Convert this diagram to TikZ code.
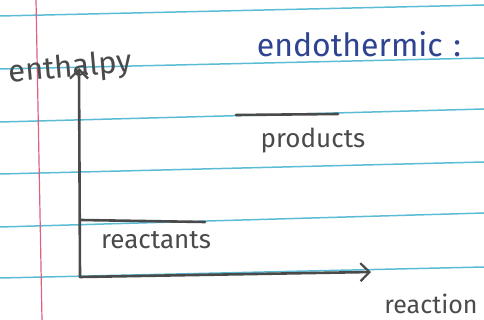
\documentclass[tikz,border=0pt]{standalone}
\usepackage{fontspec}
\setmainfont{Fira Sans}
\usetikzlibrary{arrows.meta}
\definecolor{rule}{HTML}{5BBCD6}
\definecolor{margin}{HTML}{E0607E}
\definecolor{pencil}{HTML}{4A4A4A}
\definecolor{ink}{HTML}{2E4490}
\tikzset{
  paperline/.style={rule, line width=1.5pt},
  pencilline/.style={pencil, line width=2.6pt, line cap=round},
  axis/.style={pencilline, -{Straight Barb[length=9pt,width=18pt,line width=2.2pt]}},
  hand/.style={pencil, inner sep=0pt, anchor=base},
}
\begin{document}
\begin{tikzpicture}[x=1pt,y=-1pt]
\fill[white] (0,0) rectangle (484,320);
\useasboundingbox (0,0) rectangle (484,320);
% ruled lines
\foreach \l/\r in {16/5, 69/58, 122/109, 174/162, 227/213, 278/267}
  \draw[paperline] (0,\l) -- (484,\r);
\draw[margin, line width=1.2pt] (36,0) -- (42,320);
% axes
\coordinate (origin) at (80,277);
\coordinate (ytop) at (79,68);
\coordinate (xend) at (371,272);
\draw[axis] (origin) -- (ytop);
\draw[axis] (origin) -- (xend);
% levels
\coordinate (r1) at (81,220);
\coordinate (r2) at (205,222);
\draw[pencilline] (r1) -- (r2);
\coordinate (p1) at (236,115);
\coordinate (p2) at (338,114);
\draw[pencilline] (p1) -- (p2);
% labels
\node[hand, font=\fontsize{31}{33}\selectfont, rotate=5] (ylab) at (71,77) {enthalpy};
\node[hand, ink, font=\fontsize{32}{34}\selectfont] (title) at (359,57) {endothermic\,\,:};
\node[hand, font=\fontsize{26}{28}\selectfont] (prod) at (313,148) {products};
\node[hand, font=\fontsize{26}{28}\selectfont] (react) at (156,248) {reactants};
\node[hand, font=\fontsize{25}{27}\selectfont] (xlab) at (431,313) {reaction};
\end{tikzpicture}
\end{document}
